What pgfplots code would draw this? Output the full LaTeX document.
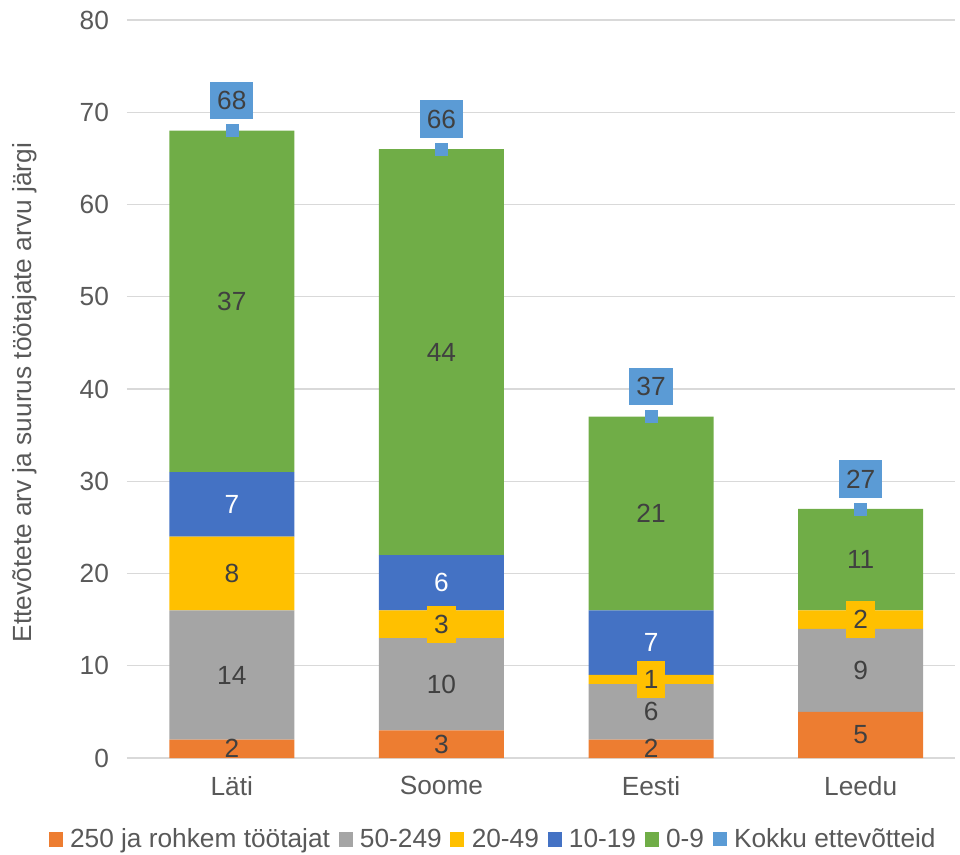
\documentclass[border=0pt]{standalone}
\usepackage{pgfplots}
\pgfplotsset{compat=1.18}
\usepackage{fontspec}
\setmainfont{Liberation Sans}
\definecolor{cOr}{HTML}{ED7D31}
\definecolor{cGr}{HTML}{A5A5A5}
\definecolor{cYe}{HTML}{FFC000}
\definecolor{cBl}{HTML}{4472C4}
\definecolor{cGn}{HTML}{70AD47}
\definecolor{cLB}{HTML}{5B9BD5}
\definecolor{cGrid}{HTML}{D9D9D9}
\definecolor{cTick}{HTML}{595959}
\definecolor{cTxt}{HTML}{404040}
\newcommand\f{\fontsize{19.7}{23.6}\selectfont}
\pgfplotsset{
  lbl/.style={only marks, mark=square*, mark options={draw opacity=0, fill opacity=0}, nodes near coords, point meta=explicit symbolic,
    every node near coord/.append style={font=\f, text=cTxt, anchor=center, opacity=1, text opacity=1, fill opacity=1, draw opacity=1}},
}
\begin{document}
\begin{tikzpicture}
\begin{axis}[name=ax, scale only axis, width=621pt, height=553.5pt,
  xmin=-0.5, xmax=3.45, ymin=0, ymax=80, ytick={0,10,...,80},
  xtick={0,1,2,3}, xticklabels={Läti,Soome,Eesti,Leedu},
  ybar stacked, bar width=93.75pt,
  ymajorgrids, grid style={color=cGrid, line width=1pt},
  axis line style={draw=none}, major tick length=0pt,
  tick label style={font=\f, text=cTick},
  /pgf/number format/assume math mode=true,
  yticklabel style={xshift=-10pt}, xticklabel style={yshift=-10pt},
  ylabel={Ettevõtete arv ja suurus töötajate arvu järgi},
  ylabel style={font=\f, text=cTick, at={(axis description cs:-0.123,0.495)}, anchor=center},
  legend style={at={(0.439,-0.11)}, anchor=center, legend columns=-1, draw=none, fill=none, font=\f, text=cTick},
  legend image code/.code={\fill[#1] (0pt,-5.6pt) rectangle (10.5pt,5.6pt); \path[draw=none,fill=none] (-4.5pt,0) -- (14pt,0);},
]
\addplot[fill=cOr, draw=none] coordinates {(0,2) (1,3) (2,2) (3,5)};
\addlegendentry{250 ja rohkem töötajat}
\addplot[fill=cGr, draw=none] coordinates {(0,14) (1,10) (2,6) (3,9)};
\addlegendentry{50-249}
\addplot[fill=cYe, draw=none] coordinates {(0,8) (1,3) (2,1) (3,2)};
\addlegendentry{20-49}
\addplot[fill=cBl, draw=none] coordinates {(0,7) (1,6) (2,7) (3,0)};
\addlegendentry{10-19}
\addplot[fill=cGn, draw=none] coordinates {(0,37) (1,44) (2,21) (3,11)};
\addlegendentry{0-9}
\addlegendimage{legend image code/.code={\fill[cLB] (0.5pt,-4.9pt) rectangle (10pt,4.9pt); \path[draw=none,fill=none] (-4.5pt,0) -- (14pt,0);}}
\addlegendentry{Kokku ettevõtteid}
\end{axis}
\begin{axis}[scale only axis, width=621pt, height=553.5pt,
  xmin=-0.5, xmax=3.45, ymin=0, ymax=80, hide axis, clip=false]
\addplot[only marks, mark=square*, mark size=4.5pt, color=cLB] coordinates {(0,68) (1,66) (2,37) (3,27)};
% dark labels
\addplot[lbl] coordinates {(0,1)[2] (1,1.5)[3] (2,1)[2] (3,2.5)[5]
  (0,9)[14] (1,8)[10] (2,5)[6] (3,9.5)[9]
  (0,20)[8]
  (0,49.5)[37] (1,44)[44] (2,26.5)[21] (3,21.5)[11]};
% white labels
\addplot[lbl, every node near coord/.append style={text=white}] coordinates {(0,27.5)[7] (1,19)[6] (2,12.5)[7]};
% yellow boxes
\addplot[lbl, every node near coord/.append style={fill=cYe, inner xsep=5.25pt, inner ysep=0pt, minimum height=28pt}]
  coordinates {(1,14.5)[3] (2,8.5)[1] (3,15)[2]};
% totals
\addplot[lbl, every node near coord/.append style={fill=cLB, inner xsep=5.25pt, inner ysep=0pt, minimum height=28pt, yshift=22.5pt}]
  coordinates {(0,68)[68] (1,66)[66] (2,37)[37] (3,27)[27]};
\end{axis}
\pgfresetboundingbox
\path[use as bounding box] ([shift={(-95.25pt,-72pt)}]ax.south west) rectangle ([shift={(624.75pt,568.5pt)}]ax.south west);
\end{tikzpicture}
\end{document}
